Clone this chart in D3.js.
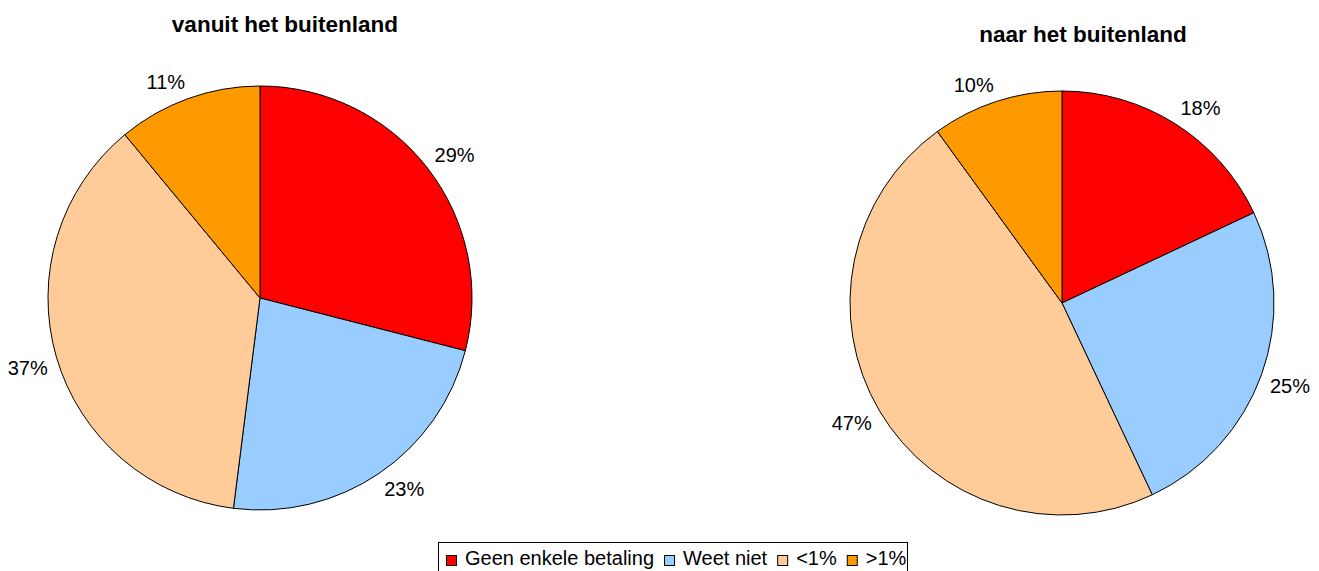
<!DOCTYPE html>
<html lang="nl">
<head>
  <meta charset="UTF-8">
  <title>Betalingen buitenland</title>
  <style>
    body { margin: 0; background: #fff; font-family: Arial, "Liberation Sans", sans-serif; }
    svg { display: block; }
    .title { font-weight: bold; font-size: 22.5px; text-anchor: middle; }
    .lbl { font-size: 20px; }
    .leg { font-size: 20px; }
  </style>
</head>
<body>
  <div id="chart"></div>
  <script src="https://d3js.org/d3.v7.min.js"></script>
  <script>
    // categories and colours
    const categories = ['Geen enkele betaling', 'Weet niet', '<1%', '>1%'];
    const colors = ['#FF0000', '#99CCFF', '#FFCC99', '#FF9900'];

    // values (percentages)
    const vanuitValues = [29, 23, 37, 11];
    const naarValues = [18, 25, 47, 10];

    const titles = ['vanuit het buitenland', 'naar het buitenland'];

    const W = 1319, H = 571;
    const R = 212;

    const svg = d3.select('#chart').append('svg')
      .attr('width', W).attr('height', H);

    const pie = d3.pie().sort(null).value(d => d);
    const arc = d3.arc().innerRadius(0).outerRadius(R);

    const charts = [
      { title: titles[0], values: vanuitValues, cx: 260, cy: 298, tx: 285, ty: 32 },
      { title: titles[1], values: naarValues, cx: 1062, cy: 303, tx: 1083, ty: 42 }
    ];

    charts.forEach(c => {
      svg.append('text')
        .attr('class', 'title')
        .attr('x', c.tx).attr('y', c.ty)
        .text(c.title);

      const g = svg.append('g').attr('transform', `translate(${c.cx},${c.cy})`);
      const arcs = pie(c.values);

      g.selectAll('path')
        .data(arcs)
        .enter().append('path')
        .attr('d', arc)
        .attr('fill', (d, i) => colors[i])
        .attr('stroke', '#000')
        .attr('stroke-width', 1);

      // labels placed just outside the rim
      const gap = 9;
      g.selectAll('text.lbl')
        .data(arcs)
        .enter().append('text')
        .attr('class', 'lbl')
        .text(d => d.value + '%')
        .each(function(d) {
          const a = (d.startAngle + d.endAngle) / 2;
          const s = Math.sin(a), co = Math.cos(a);
          const w = this.getComputedTextLength();
          const h = 16;
          const px = (R + gap) * s + Math.sign(s) * w / 2;
          const py = -(R + gap) * co - Math.sign(co) * h / 2;
          d3.select(this)
            .attr('x', px)
            .attr('y', py)
            .attr('text-anchor', 'middle')
            .attr('dy', '0.35em');
        });
    });

    // legend
    const legend = svg.append('g');
    legend.append('rect')
      .attr('x', 438.5).attr('y', 542.5)
      .attr('width', 469).attr('height', 40)
      .attr('fill', '#fff').attr('stroke', '#000');

    let x = 446;
    categories.forEach((name, i) => {
      legend.append('rect')
        .attr('x', x + 0.5).attr('y', 555.5)
        .attr('width', 10).attr('height', 10)
        .attr('fill', colors[i]).attr('stroke', '#000');
      const t = legend.append('text')
        .attr('class', 'leg')
        .attr('x', x + 19).attr('y', 565)
        .text(name);
      x += 19 + t.node().getComputedTextLength() + 10;
    });
  </script>
</body>
</html>
